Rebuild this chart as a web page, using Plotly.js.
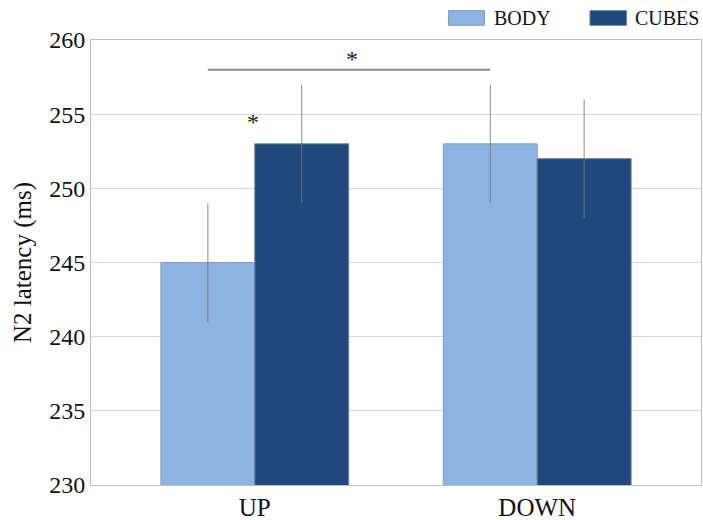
<!DOCTYPE html>
<html>
<head>
<meta charset="utf-8">
<script src="https://cdn.plot.ly/plotly-3.0.1.min.js"></script>
<style>html,body{margin:0;padding:0;background:#fff;}#chart{width:703px;height:520px;}</style>
</head>
<body>
<div id="chart"></div>
<script>
var categories = ["UP", "DOWN"];
var bodyValues = [245, 253];
var cubesValues = [253, 252];
var bodyErrors = [4, 4];
var cubesErrors = [4, 4];
var yTicks = [230, 235, 240, 245, 250, 255, 260];
var seriesNames = ["BODY", "CUBES"];
var bodyColor = "#8DB3E2";
var cubesColor = "#1F497D";
var serif = "Liberation Serif";

var errStyle = {type: "data", visible: true, thickness: 1, width: 0, color: "rgba(120,120,120,0.85)"};

var traces = [
  {type: "bar", name: seriesNames[0], x: categories, y: bodyValues,
   marker: {color: bodyColor, line: {color: "#8a9bb0", width: 1}},
   error_y: Object.assign({array: bodyErrors}, errStyle), showlegend: false},
  {type: "bar", name: seriesNames[1], x: categories, y: cubesValues,
   marker: {color: cubesColor, line: {color: "#6d7f96", width: 1}},
   error_y: Object.assign({array: cubesErrors}, errStyle), showlegend: false}
];

var off = 0.1665;
var layout = {
  width: 703, height: 520,
  margin: {l: 91, r: 2, t: 40, b: 35},
  paper_bgcolor: "#fff", plot_bgcolor: "#fff",
  barmode: "group", bargap: 0.335, bargroupgap: 0,
  font: {family: serif, color: "#111"},
  xaxis: {type: "category", range: [-0.58, 1.58], showgrid: false,
    showline: true, mirror: true, linecolor: "#bfbfbf", linewidth: 1,
    ticks: "", tickfont: {family: serif, size: 25, color: "#111"}, zeroline: false},
  yaxis: {range: [230, 260], tickvals: yTicks, showgrid: true, gridcolor: "#d9d9d9", gridwidth: 1,
    showline: true, mirror: true, linecolor: "#bfbfbf", linewidth: 1, zeroline: false,
    ticks: "", tickfont: {family: serif, size: 24, color: "#111"},
    title: {text: "N2 latency (ms)", font: {family: serif, size: 25, color: "#111"}, standoff: 10}},
  shapes: [
    {type: "line", xref: "x", yref: "y", x0: -off, x1: 1 - off, y0: 258, y1: 258,
     line: {color: "#8c8c8c", width: 2}},
    {type: "rect", xref: "paper", yref: "paper", x0: 0.586, x1: 0.645, y0: 1.033, y1: 1.066,
     fillcolor: bodyColor, line: {color: "#8a9bb0", width: 1}},
    {type: "rect", xref: "paper", yref: "paper", x0: 0.818, x1: 0.878, y0: 1.033, y1: 1.066,
     fillcolor: cubesColor, line: {color: "#6d7f96", width: 1}}
  ],
  annotations: [
    {xref: "x", yref: "y", x: 1/3 + 0.01, y: 258.7, text: "*", showarrow: false,
     font: {family: serif, size: 24, color: "#222"}},
    {xref: "x", yref: "y", x: -0.008, y: 254.5, text: "*", showarrow: false,
     font: {family: serif, size: 24, color: "#222"}},
    {xref: "paper", yref: "paper", x: 0.657, y: 1.05, xanchor: "left", yanchor: "middle",
     text: seriesNames[0], showarrow: false, font: {family: serif, size: 20, color: "#111"}},
    {xref: "paper", yref: "paper", x: 0.889, y: 1.05, xanchor: "left", yanchor: "middle",
     text: seriesNames[1], showarrow: false, font: {family: serif, size: 20, color: "#111"}}
  ]
};

Plotly.newPlot("chart", traces, layout, {displayModeBar: false, staticPlot: true});
</script>
</body>
</html>
